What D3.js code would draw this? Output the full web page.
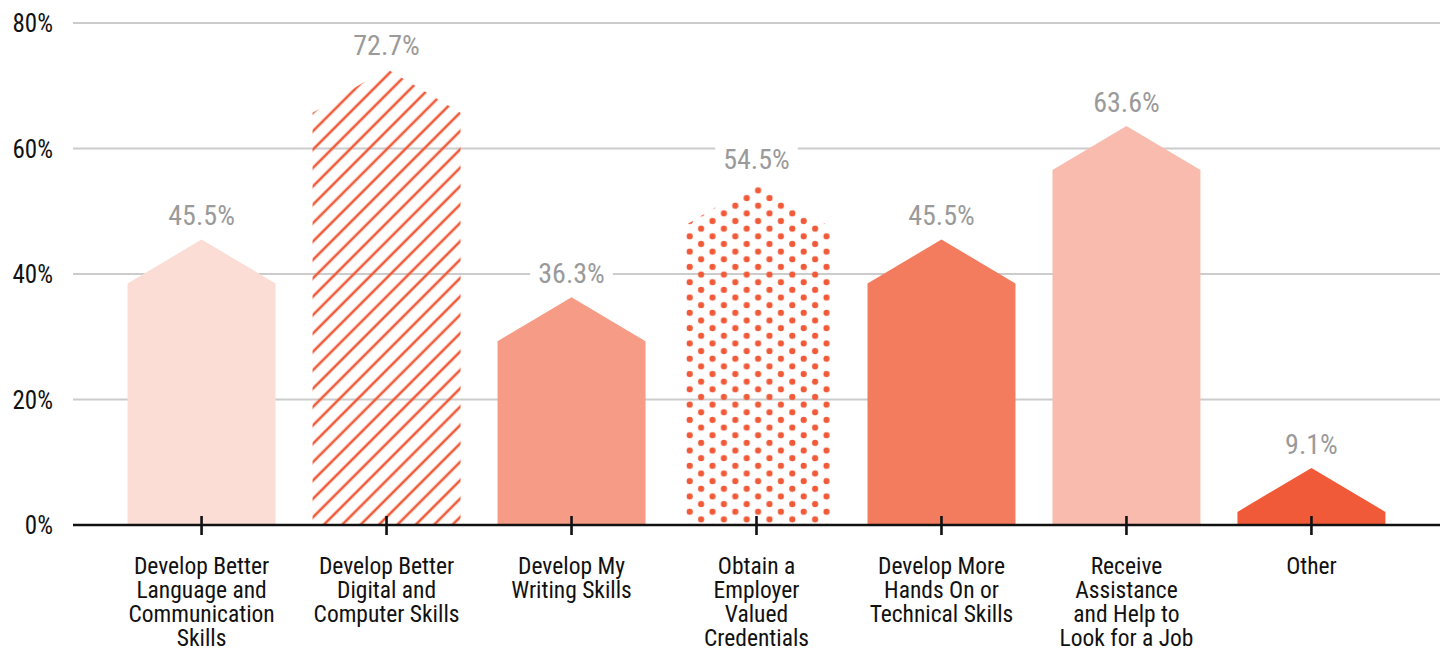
<!DOCTYPE html>
<html>
<head>
<meta charset="utf-8">
<script src="https://cdn.jsdelivr.net/npm/d3@7"></script>
<style>
  html, body { margin: 0; padding: 0; background: #fff; }
  svg { display: block; font-family: Roboto, "Noto Sans", sans-serif; font-stretch: condensed; }
</style>
</head>
<body>
<svg id="chart" width="1447" height="651"></svg>
<script>
// Share of respondents by goal
const categories = [
  ["Develop Better", "Language and", "Communication", "Skills"],
  ["Develop Better", "Digital and", "Computer Skills"],
  ["Develop My", "Writing Skills"],
  ["Obtain a", "Employer", "Valued", "Credentials"],
  ["Develop More", "Hands On or", "Technical Skills"],
  ["Receive", "Assistance", "and Help to", "Look for a Job"],
  ["Other"]
];
const values = [45.5, 72.7, 36.3, 54.5, 45.5, 63.6, 9.1];
const valueLabels = ["45.5%", "72.7%", "36.3%", "54.5%", "45.5%", "63.6%", "9.1%"];
const fills = ["#FBDDD5", "url(#hatch)", "#F69C86", "url(#dots)", "#F37B5E", "#F9BBAD", "#F15A38"];
const yTicks = [0, 20, 40, 60, 80];

const svg = d3.select("#chart");
const accent = "#F15A38";

// patterns for the two highlighted bars
const defs = svg.append("defs");
const hatch = defs.append("pattern")
  .attr("id", "hatch").attr("patternUnits", "userSpaceOnUse")
  .attr("width", 13).attr("height", 13)
  .attr("patternTransform", "rotate(45)");
hatch.append("line").attr("x1", 2).attr("x2", 2).attr("y1", -1).attr("y2", 14)
  .attr("stroke", accent).attr("stroke-width", 2.6);

const dots = defs.append("pattern")
  .attr("id", "dots").attr("patternUnits", "userSpaceOnUse")
  .attr("width", 22.8).attr("height", 15.3)
  .attr("x", 0).attr("y", 3);
dots.append("circle").attr("cx", 5.7).attr("cy", 3.8).attr("r", 3.1).attr("fill", accent);
dots.append("circle").attr("cx", 17.1).attr("cy", 11.45).attr("r", 3.1).attr("fill", accent);

const x = d3.scaleBand()
  .domain(d3.range(categories.length))
  .range([73, 1440])
  .paddingInner(0.2)
  .paddingOuter(0.295);

const y = d3.scaleLinear().domain([0, 80]).range([525, 23]);

// horizontal gridlines
svg.append("g")
  .selectAll("line")
  .data(yTicks.filter(d => d > 0))
  .join("line")
  .attr("x1", 73).attr("x2", 1440)
  .attr("y1", d => y(d)).attr("y2", d => y(d))
  .attr("stroke", "#CCCCCC").attr("stroke-width", 2);

// y tick labels
svg.append("g")
  .selectAll("text")
  .data(yTicks)
  .join("text")
  .attr("x", 53).attr("y", d => y(d))
  .attr("dy", "0.36em")
  .attr("text-anchor", "end")
  .attr("font-size", 25)
  .attr("fill", "#111")
  .text(d => d + "%");

// house-shaped bars: peak at the value, roof of fixed pixel rise
const roof = 44;
function house(i) {
  const x0 = x(i), x1 = x(i) + x.bandwidth(), xm = x(i) + x.bandwidth() / 2;
  const top = y(values[i]);
  const base = y(0);
  const shoulder = Math.min(top + roof, base);
  return `M${x0},${base}L${x0},${shoulder}L${xm},${top}L${x1},${shoulder}L${x1},${base}Z`;
}
svg.append("g")
  .selectAll("path")
  .data(values)
  .join("path")
  .attr("d", (d, i) => house(i))
  .attr("fill", (d, i) => fills[i]);

// value labels with white backing
const lab = svg.append("g")
  .selectAll("g")
  .data(values)
  .join("g")
  .attr("transform", (d, i) => `translate(${x(i) + x.bandwidth() / 2},${y(d) - 14})`);
lab.append("text")
  .attr("text-anchor", "middle")
  .attr("font-size", 28)
  .attr("fill", "#9A9A9A")
  .text((d, i) => valueLabels[i]);
lab.each(function () {
  const g = d3.select(this);
  const bb = g.select("text").node().getBBox();
  g.insert("rect", "text")
    .attr("x", bb.x - 8).attr("y", bb.y + 2)
    .attr("width", bb.width + 16).attr("height", bb.height - 4)
    .attr("fill", "#fff");
});

// baseline axis with ticks
const xAxis = svg.append("g").attr("transform", `translate(0,${y(0)})`);
xAxis.append("line").attr("x1", 73).attr("x2", 1440)
  .attr("stroke", "#111").attr("stroke-width", 2.6);
xAxis.selectAll("line.tick")
  .data(d3.range(categories.length))
  .join("line")
  .attr("class", "tick")
  .attr("x1", i => x(i) + x.bandwidth() / 2)
  .attr("x2", i => x(i) + x.bandwidth() / 2)
  .attr("y1", -9).attr("y2", 10)
  .attr("stroke", "#111").attr("stroke-width", 2.6);

// category labels
const cat = svg.append("g")
  .selectAll("text")
  .data(categories)
  .join("text")
  .attr("text-anchor", "middle")
  .attr("font-size", 23.5)
  .attr("fill", "#111")
  .attr("transform", (d, i) => `translate(${x(i) + x.bandwidth() / 2},574)`);
cat.selectAll("tspan")
  .data(d => d)
  .join("tspan")
  .attr("x", 0)
  .attr("y", (d, j) => j * 24)
  .text(d => d);
</script>
</body>
</html>
